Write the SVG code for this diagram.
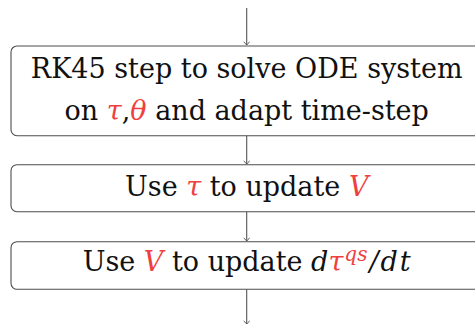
<svg xmlns="http://www.w3.org/2000/svg" width="475" height="326" viewBox="0 0 475 326">
<style>
.box{fill:#fff;stroke:#4d4d4d;stroke-width:1.1}
.t{font-family:"DejaVu Serif","Liberation Serif",serif;font-size:27px;fill:#111;text-anchor:middle}
.m{font-style:italic}
.r{fill:#ef4040}
.c{fill:none;stroke:#555;stroke-width:1.1}
</style>
<defs>
<marker id="ah" viewBox="-4 -4 6 8" markerWidth="6" markerHeight="8" refX="0" refY="0" orient="auto" markerUnits="userSpaceOnUse">
<path d="M-3,-3 Q-1,-0.5 0,0 Q-1,0.5 -3,3" fill="none" stroke="#555" stroke-width="1"/>
</marker>
</defs>
<g id="connectors">
<line class="c" x1="246.7" y1="8" x2="246.7" y2="45" marker-end="url(#ah)"/>
<line class="c" x1="246.7" y1="135.7" x2="246.7" y2="164" marker-end="url(#ah)"/>
<line class="c" x1="246.7" y1="211.7" x2="246.7" y2="241" marker-end="url(#ah)"/>
<line class="c" x1="246.7" y1="289.3" x2="246.7" y2="324" marker-end="url(#ah)"/>
</g>
<g id="node1">
<rect class="box" x="11" y="46" width="472" height="89.7" rx="6"/>
<text class="t" x="246.7" y="77.5">RK45 step to solve ODE system</text>
<text class="t" x="246.7" y="119.5">on <tspan class="m r">τ</tspan>,<tspan class="m r">θ</tspan> and adapt time-step</text>
</g>
<g id="node2">
<rect class="box" x="11" y="164.7" width="472" height="47" rx="6"/>
<text class="t" x="246.7" y="196">Use <tspan class="m r">τ</tspan> to update <tspan class="m r">V</tspan></text>
</g>
<g id="node3">
<rect class="box" x="11" y="241.7" width="472" height="47.6" rx="6"/>
<text class="t" x="246.7" y="271">Use <tspan class="m r">V</tspan> to update <tspan class="m">d</tspan><tspan class="m r">τ</tspan><tspan class="m r" font-size="20" dy="-10" dx="1">qs</tspan><tspan class="m" dy="10" dx="2">/</tspan><tspan class="m" dx="2">d</tspan><tspan class="m" dx="2">t</tspan></text>
</g>
</svg>
